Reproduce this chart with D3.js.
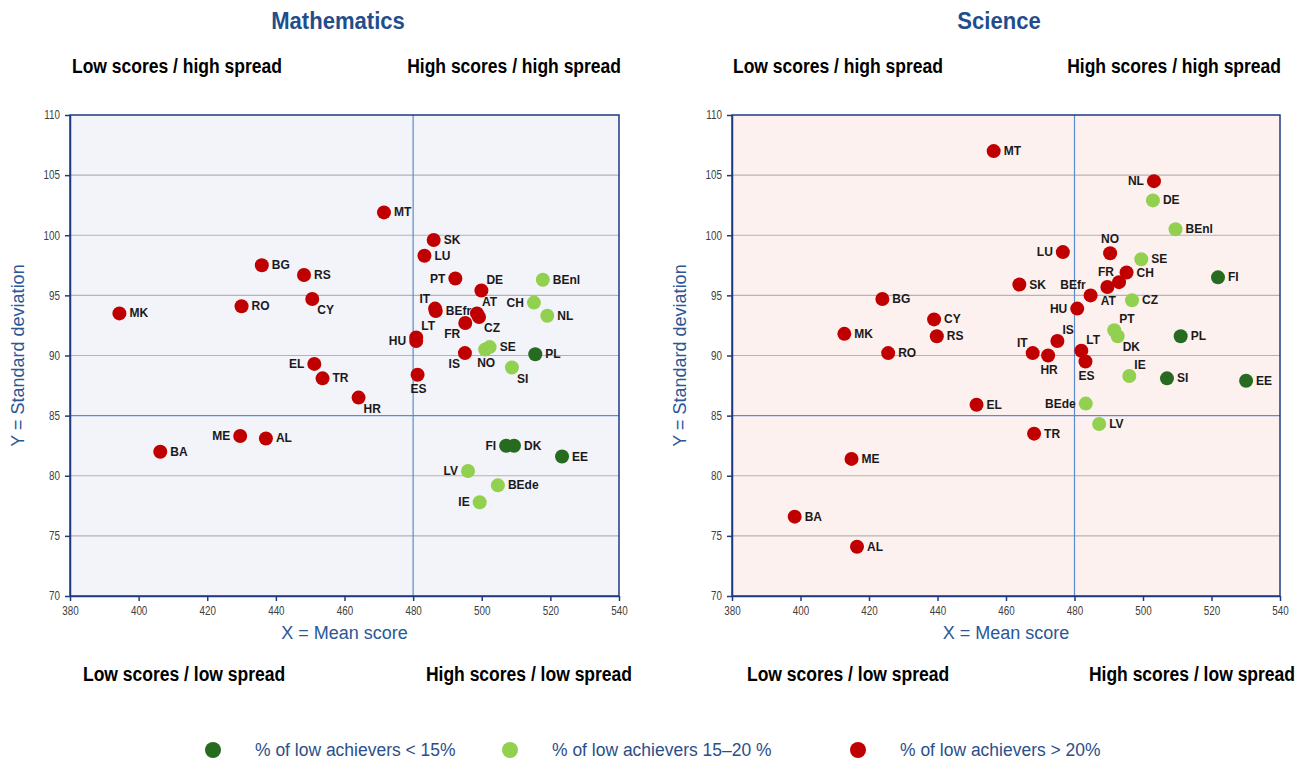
<!DOCTYPE html>
<html>
<head>
<meta charset="utf-8">
<script src="https://cdn.jsdelivr.net/npm/d3@7"></script>
<style>
  body { margin: 0; background: #fff; }
  svg { display: block; }
</style>
</head>
<body>
<svg id="chart" width="1306" height="765"></svg>
<script>
// ---- data ----
const countries = ['BA', 'MK', 'ME', 'AL', 'RO', 'BG', 'RS', 'CY', 'EL', 'TR',
  'HR', 'MT', 'LU', 'SK', 'PT', 'DE', 'IT', 'BEfr', 'AT', 'CZ',
  'FR', 'LT', 'HU', 'IS', 'ES', 'NO', 'SE', 'SI', 'PL', 'CH',
  'NL', 'BEnl', 'FI', 'DK', 'EE', 'LV', 'BEde', 'IE'];

const mathMean = [406.3, 394.4, 429.6, 437.1, 430.0, 435.9, 448.2, 450.6, 451.2, 453.6,
  464.1, 471.5, 483.3, 486.0, 492.3, 499.9, 486.4, 486.6, 498.6, 499.2,
  495.2, 480.9, 480.9, 495.1, 481.3, 501.0, 502.3, 508.8, 515.6, 515.2,
  519.1, 517.8, 507.1, 509.4, 523.4, 496.0, 504.7, 499.4];
const mathSd = [82.0, 93.5, 83.3, 83.1, 94.1, 97.5, 96.7, 94.7, 89.3, 88.1,
  86.5, 101.9, 98.3, 99.6, 96.4, 95.4, 93.9, 93.7, 93.5, 93.2,
  92.7, 91.5, 91.2, 90.2, 88.4, 90.5, 90.7, 89.0, 90.1, 94.4,
  93.3, 96.3, 82.5, 82.5, 81.6, 80.4, 79.2, 77.8];
// 0: < 15 %, 1: 15-20 %, 2: > 20 %
const mathGroup = [2, 2, 2, 2, 2, 2, 2, 2, 2, 2,
  2, 2, 2, 2, 2, 2, 2, 2, 2, 2,
  2, 2, 2, 2, 2, 1, 1, 1, 0, 1,
  1, 1, 0, 0, 0, 1, 1, 1];

const sciMean = [398.3, 412.8, 414.9, 416.5, 425.6, 423.9, 439.8, 439.0, 451.4, 468.2,
  472.3, 456.4, 476.6, 463.9, 491.6, 502.9, 467.8, 484.7, 489.6, 496.8,
  493.0, 482.0, 480.8, 475.0, 483.2, 490.4, 499.5, 507.0, 511.0, 495.2,
  503.2, 509.5, 521.9, 492.6, 530.1, 487.2, 483.3, 496.0];
const sciSd = [76.6, 91.8, 81.4, 74.1, 90.2, 94.7, 91.6, 93.0, 85.9, 83.5,
  90.0, 107.0, 98.6, 95.9, 92.1, 102.9, 90.2, 95.0, 95.7, 94.6,
  96.1, 90.4, 93.9, 91.2, 89.5, 98.5, 98.0, 88.1, 91.6, 96.9,
  104.5, 100.5, 96.5, 91.6, 87.9, 84.3, 86.0, 88.3];
const sciGroup = [2, 2, 2, 2, 2, 2, 2, 2, 2, 2,
  2, 2, 2, 2, 1, 1, 2, 2, 2, 1,
  2, 2, 2, 2, 2, 2, 1, 0, 0, 2,
  2, 1, 0, 1, 0, 1, 1, 1];

const groupLabels = ['% of low achievers < 15%', '% of low achievers 15\u201320 %', '% of low achievers > 20%'];
const xTicks = [380, 400, 420, 440, 460, 480, 500, 520, 540];
const yTicks = [70, 75, 80, 85, 90, 95, 100, 105, 110];
const xSplit = 480;
const ySplit = 85;

// where each country's label sits relative to its dot
const mathLabelAt = {
  ME: 'l', CY: 'br', EL: 'l', HR: 'br', PT: 'l', DE: 'ur', IT: 'ul', AT: 'ur', CZ: 'br',
  FR: 'bl', LT: 'ur', HU: 'l', IS: 'bl', ES: 'b', NO: 'b', SI: 'br', CH: 'l',
  FI: 'l', LV: 'l', IE: 'l',
};
const sciLabelAt = {
  HR: 'b', LU: 'l', PT: 'ur', IT: 'ul', BEfr: 'ul', AT: 'b', FR: 'ul', LT: 'ur', HU: 'l',
  IS: 'ur', ES: 'b', NO: 'a', NL: 'l', DK: 'br', BEde: 'l', IE: 'ur',
};

// ---- styles ----
const COLORS = ['#266b1f', '#92d050', '#c00000'];
const NAVY = '#1f3a80';
const BLUE_TXT = '#2b5797';
const SPLIT = '#5b8ccc';
const SANS = 'Arial, "Liberation Sans", sans-serif';

const LABEL_OFFSETS = {
  r: [10, 4, 'start'],
  l: [-10, 4, 'end'],
  ul: [-5, -6, 'end'],
  ur: [5, -7, 'start'],
  bl: [-5, 15, 'end'],
  br: [5, 15, 'start'],
  a: [0, -10, 'middle'],
  b: [1, 18, 'middle'],
};

// no narrow font available offline: squeeze the glyphs horizontally instead
function squeeze(sel, k) {
  sel.each(function() {
    const w = this.getComputedTextLength();
    d3.select(this)
      .attr('textLength', w * k)
      .attr('lengthAdjust', 'spacingAndGlyphs');
  });
}

// same idea, but through a transform (keeps the box honest for anchored text)
function squeezeAt(sel, k) {
  sel.each(function() {
    const t = d3.select(this);
    const px = +t.attr('x');
    const py = +t.attr('y');
    t.attr('x', 0).attr('y', 0)
      .attr('transform', `translate(${px}, ${py}) scale(${k}, 1)`);
  });
}

const svg = d3.select('#chart');

function drawPanel(opts) {
  const x = d3.scaleLinear().domain([380, 540]).range([opts.left, opts.right]);
  const y = d3.scaleLinear().domain([70, 110]).range([596, 115]);
  const g = svg.append('g');

  g.append('rect')
    .attr('x', opts.left)
    .attr('y', y(110))
    .attr('width', opts.right - opts.left)
    .attr('height', y(70) - y(110))
    .attr('fill', opts.bg);

  // horizontal gridlines
  g.selectAll('line.grid')
    .data(yTicks.filter(t => t !== 70 && t !== 110 && t !== ySplit))
    .enter()
    .append('line')
      .classed('grid', true)
      .attr('x1', opts.left)
      .attr('x2', opts.right)
      .attr('y1', d => y(d))
      .attr('y2', d => y(d))
      .attr('stroke', '#b3b3b3')
      .attr('stroke-width', 1.2);

  // quadrant split lines
  g.append('line')
    .attr('x1', opts.left).attr('x2', opts.right)
    .attr('y1', y(ySplit)).attr('y2', y(ySplit))
    .attr('stroke', SPLIT).attr('stroke-width', 1.2);
  g.append('line')
    .attr('x1', x(xSplit)).attr('x2', x(xSplit))
    .attr('y1', y(110)).attr('y2', y(70))
    .attr('stroke', SPLIT).attr('stroke-width', 1.2);

  // frame
  g.append('rect')
    .attr('x', opts.left)
    .attr('y', y(110))
    .attr('width', opts.right - opts.left)
    .attr('height', y(70) - y(110))
    .attr('fill', 'none')
    .attr('stroke', NAVY)
    .attr('stroke-width', 1.5);

  const xAxis = g.append('g')
    .attr('transform', `translate(0, ${y(70)})`)
    .call(d3.axisBottom(x).tickValues(xTicks).tickSize(5).tickSizeOuter(0).tickPadding(5));
  const yAxis = g.append('g')
    .attr('transform', `translate(${opts.left}, 0)`)
    .call(d3.axisLeft(y).tickValues(yTicks).tickSize(5).tickSizeOuter(0).tickPadding(5));

  [xAxis, yAxis].forEach(ax => {
    ax.select('.domain').attr('stroke', NAVY).attr('stroke-width', 1.5);
    ax.selectAll('.tick line').attr('stroke', NAVY).attr('stroke-width', 1.5);
    ax.selectAll('.tick text')
      .attr('fill', '#404040')
      .style('font-family', SANS)
      .style('font-size', '12px')
      .call(squeeze, 0.82);
  });

  // axis titles
  g.append('text')
    .attr('x', (opts.left + opts.right) / 2)
    .attr('y', 639)
    .attr('text-anchor', 'middle')
    .attr('fill', BLUE_TXT)
    .style('font-family', SANS)
    .style('font-size', '18px')
    .text('X = Mean score');
  g.append('text')
    .attr('transform', `translate(${opts.left - 46}, ${(y(70) + y(110)) / 2}) rotate(-90)`)
    .attr('text-anchor', 'middle')
    .attr('fill', BLUE_TXT)
    .style('font-family', SANS)
    .style('font-size', '18px')
    .text('Y = Standard deviation');

  // panel title
  g.append('text')
    .attr('x', opts.titleX)
    .attr('y', 29)
    .attr('text-anchor', 'middle')
    .attr('fill', '#1f4e8c')
    .style('font-family', SANS)
    .style('font-weight', 'bold')
    .style('font-size', '24px')
    .text(opts.title)
    .call(squeezeAt, 0.92);

  // quadrant captions
  const quad = [
    { text: 'Low scores / high spread', x: opts.qTopLeft, y: 73, anchor: 'start' },
    { text: 'High scores / high spread', x: opts.qTopRight, y: 73, anchor: 'end' },
    { text: 'Low scores / low spread', x: opts.qBotLeft, y: 681, anchor: 'start' },
    { text: 'High scores / low spread', x: opts.qBotRight, y: 681, anchor: 'end' },
  ];
  g.selectAll('text.quad')
    .data(quad)
    .enter()
    .append('text')
      .classed('quad', true)
      .attr('x', d => d.x)
      .attr('y', d => d.y)
      .attr('text-anchor', d => d.anchor)
      .attr('fill', '#000')
      .style('font-family', SANS)
      .style('font-weight', 'bold')
      .style('font-size', '20px')
      .text(d => d.text)
      .call(squeezeAt, 0.875);

  // points
  const pts = countries.map((c, i) => ({
    code: c, mean: opts.mean[i], sd: opts.sd[i], group: opts.group[i],
  }));

  g.selectAll('circle.pt')
    .data(pts)
    .enter()
    .append('circle')
      .classed('pt', true)
      .attr('cx', d => x(d.mean))
      .attr('cy', d => y(d.sd))
      .attr('r', 7)
      .attr('fill', d => COLORS[d.group]);

  g.selectAll('text.lbl')
    .data(pts)
    .enter()
    .append('text')
      .classed('lbl', true)
      .each(function(d) {
        const off = LABEL_OFFSETS[opts.labelAt[d.code] || 'r'];
        d3.select(this)
          .attr('x', x(d.mean) + off[0])
          .attr('y', y(d.sd) + off[1])
          .attr('text-anchor', off[2]);
      })
      .attr('fill', '#1a1a1a')
      .style('font-family', SANS)
      .style('font-weight', 'bold')
      .style('font-size', '12px')
      .text(d => d.code);
}

drawPanel({
  title: 'Mathematics', titleX: 338, left: 70, right: 619, bg: '#f3f3fa',
  mean: mathMean, sd: mathSd, group: mathGroup, labelAt: mathLabelAt,
  qTopLeft: 72, qTopRight: 621, qBotLeft: 83, qBotRight: 632,
});
drawPanel({
  title: 'Science', titleX: 999, left: 732, right: 1280, bg: '#fdf1ef',
  mean: sciMean, sd: sciSd, group: sciGroup, labelAt: sciLabelAt,
  qTopLeft: 733, qTopRight: 1281, qBotLeft: 747, qBotRight: 1295,
});

// legend
const legendX = [213, 510, 858];
const legend = svg.append('g')
  .selectAll('g')
  .data(groupLabels)
  .enter()
  .append('g')
    .attr('transform', (d, i) => `translate(${legendX[i]}, 750)`);
legend.append('circle')
  .attr('r', 8)
  .attr('fill', (d, i) => COLORS[i]);
legend.append('text')
  .attr('x', 42)
  .attr('y', 6)
  .attr('fill', '#2b4f8a')
  .style('font-family', SANS)
  .style('font-size', '19px')
  .text(d => d)
  .call(squeezeAt, 0.92);
</script>
</body>
</html>
